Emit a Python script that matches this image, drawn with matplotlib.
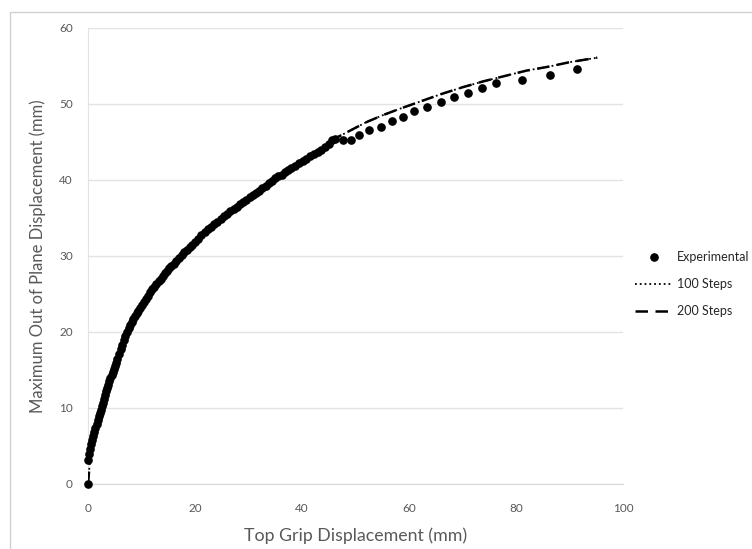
import matplotlib
matplotlib.use('Agg')
import matplotlib.pyplot as plt
from matplotlib.patches import Rectangle
import numpy as np

# experimental points (top grip displacement, max out of plane displacement), mm
exp_x = [0.0, 0.05, 0.2, 0.4, 0.6, 0.8, 1.0, 1.2, 1.4, 1.6, 1.8, 2.0, 2.2, 2.4, 2.6, 2.8,
		 3.0, 3.2, 3.4, 3.6, 3.8, 4.0, 4.2, 4.4, 4.6, 4.8, 5.0, 5.2, 5.5, 5.8, 6.1, 6.4,
		 6.7, 7.0, 7.3, 7.6, 7.9, 8.2, 8.5, 8.8, 9.1, 9.4, 9.7, 10.0, 10.4, 10.8, 11.2,
		 11.6, 12.0, 12.4, 12.8, 13.2, 13.6, 14.0, 14.4, 14.8, 15.2, 15.6, 16.0, 16.5,
		 17.0, 17.5, 18.0, 18.5, 19.0, 19.5, 20.0, 20.6, 21.2, 21.8, 22.4, 23.0, 23.6,
		 24.2, 24.8, 25.4, 26.0, 26.6, 27.2, 27.8, 28.4, 29.0, 29.6, 30.2, 30.8, 31.4,
		 32.0, 32.6, 33.2, 33.8, 34.4, 35.0, 35.6, 36.2, 36.8, 37.4, 38.0, 38.7, 39.4,
		 40.1, 40.8, 41.5, 42.2, 42.9, 43.6, 44.3, 45.0, 45.6, 46.1, 47.6, 49.2, 50.7,
		 52.6, 54.8, 56.8, 58.8, 61.0, 63.4, 66.0, 68.5, 71.1, 73.6, 76.2, 81.2, 86.3, 91.4]
exp_y = [0.0, 3.1, 4.0, 4.6, 5.2, 5.8, 6.3, 6.9, 7.4, 7.9, 8.4, 8.9, 9.4, 9.8, 10.2, 10.7,
		 11.2, 11.7, 12.2, 12.6, 13.0, 13.5, 13.9, 14.3, 14.7, 15.1, 15.5, 15.9, 16.5, 17.1, 17.7, 18.3,
		 18.9, 19.5, 20.0, 20.5, 20.9, 21.3, 21.7, 22.1, 22.5, 22.8, 23.1, 23.5, 23.9, 24.4, 24.8,
		 25.2, 25.6, 25.9, 26.3, 26.7, 27.0, 27.4, 27.7, 28.0, 28.4, 28.7, 29.0, 29.4,
		 29.8, 30.1, 30.5, 30.8, 31.2, 31.5, 31.9, 32.3, 32.7, 33.1, 33.5, 33.8, 34.2,
		 34.5, 34.9, 35.2, 35.5, 35.9, 36.2, 36.5, 36.8, 37.1, 37.4, 37.7, 38.0, 38.3,
		 38.6, 38.9, 39.2, 39.6, 39.9, 40.2, 40.5, 40.7, 41.0, 41.3, 41.6, 41.9, 42.2,
		 42.5, 42.8, 43.1, 43.4, 43.7, 44.0, 44.4, 44.8, 45.3, 45.4, 45.3, 45.3, 45.9,
		 46.6, 47.0, 47.7, 48.3, 49.1, 49.6, 50.2, 50.9, 51.5, 52.1, 52.7, 53.2, 53.8, 54.6]

# FE model results
s100_x = [0, 0.5, 1, 2, 3, 4, 5, 6, 8, 10, 12, 15, 18, 21, 25, 30, 35, 40, 43, 46,
		  49, 52, 55, 58, 62, 66, 70, 74, 78, 82, 86, 90, 95.2]
s100_y = [0, 4.2, 5.9, 8.6, 10.9, 13.1, 15.1, 17.3, 20.9, 23.4, 25.5, 28.2, 30.4, 32.6, 35.0, 37.6, 40.1, 42.4, 43.7, 45.4,
		  46.5, 47.6, 48.5, 49.3, 50.3, 51.3, 52.2, 53.0, 53.7, 54.4, 54.9, 55.5, 56.1]
s200_x = [0, 0.5, 1, 2, 3, 4, 5, 6, 8, 10, 12, 15, 18, 21, 25, 30, 35, 40, 43, 46,
		  49, 52, 55, 58, 62, 66, 70, 74, 78, 82, 86, 90, 95.2]
s200_y = [0, 4.2, 5.9, 8.6, 10.9, 13.1, 15.1, 17.3, 20.9, 23.4, 25.5, 28.2, 30.4, 32.6, 35.0, 37.6, 40.1, 42.4, 43.7, 45.4,
		  46.5, 47.6, 48.5, 49.3, 50.3, 51.3, 52.2, 53.0, 53.7, 54.4, 54.9, 55.5, 56.1]

plt.rcParams['font.family'] = ['Lato', 'DejaVu Sans']
txt_col = '#595959'
grid_col = '#e3e3e3'

fig = plt.figure(figsize = (7.52, 5.49), dpi=100)
ax = fig.add_axes([88/752, 65/549, 535/752, 456/549])

line_1, = ax.plot(exp_x, exp_y, 'o', color = 'black', markersize = 5.2, label = 'Experimental', zorder = 3, clip_on = False)
line_2, = ax.plot(s100_x, s100_y, ':', color = 'black', linewidth = 1.3, label = '100 Steps', zorder = 4)
line_3, = ax.plot(s200_x, s200_y, '--', color = 'black', linewidth = 1.8, dashes = (5, 3), label = '200 Steps', zorder = 4)

ax.set_xlim(0, 100)
ax.set_ylim(0, 60)
ax.set_xticks(np.arange(0, 101, 20))
ax.set_yticks(np.arange(0, 61, 10))
ax.yaxis.grid(True, color = grid_col, linewidth = 1)
ax.set_axisbelow(True)
for s in ['top', 'right']:
	ax.spines[s].set_visible(False)
ax.spines['left'].set_color(grid_col)
ax.spines['bottom'].set_color('#d9d9d9')
ax.tick_params(length = 0, labelsize = 8.5, labelcolor = txt_col)
ax.tick_params(axis = 'x', pad = 14)
ax.tick_params(axis = 'y', pad = 11)

ax.set_xlabel('Top Grip Displacement (mm)', fontsize = 12.8, color = txt_col, labelpad = 9)
ax.set_ylabel('Maximum Out of Plane Displacement (mm)', fontsize = 12, color = txt_col, labelpad = 9)

fig.legend([line_1, line_2, line_3], ['Experimental', '100 Steps', '200 Steps'],
		   loc = 'upper left', bbox_to_anchor = (624/752, 1 - 240/549), frameon = False,
		   fontsize = 9.0, handlelength = 2.95, labelspacing = 1.2, handletextpad = 0.42,
		   labelcolor = '#262626')

# outer chart border (runs off the right and bottom edge)
fig.patches.append(Rectangle((10/752, -0.1), 1.2, 1.1 - 12/549, transform = fig.transFigure,
							 fill = False, edgecolor = '#d0d0d0', linewidth = 1))

plt.savefig('out.png', dpi = 100)
plt.close(fig)
